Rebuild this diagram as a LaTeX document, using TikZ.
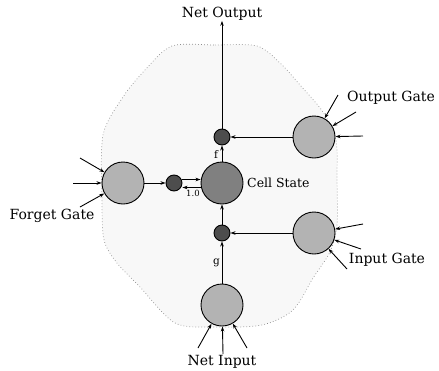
\documentclass[tikz,border=0pt]{standalone}
\usepackage{fontspec}
\setmainfont{DejaVu Serif}
\usetikzlibrary{arrows.meta,calc}
\definecolor{gatefill}{RGB}{179,179,179}
\definecolor{cellfill}{RGB}{128,128,128}
\definecolor{prodfill}{RGB}{77,77,77}
\definecolor{bgfill}{RGB}{248,248,248}
\definecolor{bordercol}{RGB}{140,140,140}
\begin{document}
\begin{tikzpicture}[x=1pt,y=-1pt,
  gate/.style={circle, draw, line width=0.9pt, fill=gatefill, minimum size=42pt, inner sep=0pt},
  cellnode/.style={circle, draw, line width=0.9pt, fill=cellfill, minimum size=42pt, inner sep=0pt},
  prod/.style={circle, draw, line width=0.9pt, fill=prodfill, minimum size=16pt, inner sep=0pt},
  conn/.style={line width=0.9pt, -{Stealth[length=5pt,width=3.5pt]}},
  biglabel/.style={font=\fontsize{14}{16}\selectfont, inner sep=0pt},
  midlabel/.style={font=\fontsize{12.5}{14}\selectfont, inner sep=0pt},
  smalllabel/.style={font=\fontsize{10.5}{12}\selectfont, inner sep=0pt},
  tinylabel/.style={font=\fontsize{8.5}{10}\selectfont, inner sep=0pt}
]
\useasboundingbox (0,0) rectangle (439,370);

% background region
\draw[bordercol, line width=0.7pt, dash pattern=on 0.7pt off 2.3pt, fill=bgfill]
  plot[smooth cycle, tension=0.5] coordinates {
  (172,46) (215,45) (257,46) (280,63) (300,85) (323,112) (336,140) (337,180)
  (337,225) (330,252) (313,278) (293,310) (262,325) (215,327) (175,323)
  (140,287) (117,263) (104,240) (102,200) (103,135) (123,97) (145,70)};

% nodes
\node[cellnode] (cell) at (222,183) {};
\node[prod] (fprod) at (222,137) {};
\node[prod] (gprod) at (222,233) {};
\node[prod] (kprod) at (174,183) {};
\node[gate] (forget) at (123,183) {};
\node[gate] (outg) at (314,137) {};
\node[gate] (ing) at (314,233) {};
\node[gate] (netin) at (222,305) {};

% labels
\node[biglabel] (lnetout) at (222,14) {Net Output};
\node[biglabel] (lnetin) at (222,362) {Net Input};
\node[biglabel] (loutg) at (391,98) {Output Gate};
\node[biglabel] (ling) at (387,260) {Input Gate};
\node[biglabel] (lforget) at (52,216) {Forget Gate};
\node[midlabel, anchor=west] (lcell) at (247,183) {Cell State};
\node[smalllabel] (lf) at (216,155) {f};
\node[smalllabel] (lg) at (216.5,263) {g};
\node[tinylabel] (lone) at (193,193) {1.0};

% free ends of incoming arrows
\coordinate (o1) at (338,95);
\coordinate (o2) at (356,112);
\coordinate (o3) at (363,136);
\coordinate (i1) at (363,224);
\coordinate (i2) at (361,249);
\coordinate (i3) at (347,269);
\coordinate (n1) at (198,348);
\coordinate (n2) at (223,354);
\coordinate (n3) at (247,348);
\coordinate (f1) at (80,158);
\coordinate (f2) at (73,183);
\coordinate (f3) at (80,207);

\foreach \c in {o1,o2,o3} \draw[conn] (\c) -- (outg);
\foreach \c in {i1,i2,i3} \draw[conn] (\c) -- (ing);
\foreach \c in {n1,n2,n3} \draw[conn] (\c) -- (netin);
\foreach \c in {f1,f2,f3} \draw[conn] (\c) -- (forget);

% internal connections
\draw[conn] (forget) -- (kprod);
\draw[conn] ([yshift=3.5pt]kprod.east) -- ([yshift=3.5pt]kprod.east -| cell.west);
\draw[conn] ([yshift=-4.5pt]kprod.east -| cell.west) -- ([yshift=-4.5pt]kprod.east);
\draw[conn] (cell) -- (fprod);
\draw[conn] (fprod) -- (lnetout);
\draw[conn] (outg) -- (fprod);
\draw[conn] (ing) -- (gprod);
\draw[conn] (gprod) -- (cell);
\draw[conn] (netin) -- (gprod);
\end{tikzpicture}
\end{document}
